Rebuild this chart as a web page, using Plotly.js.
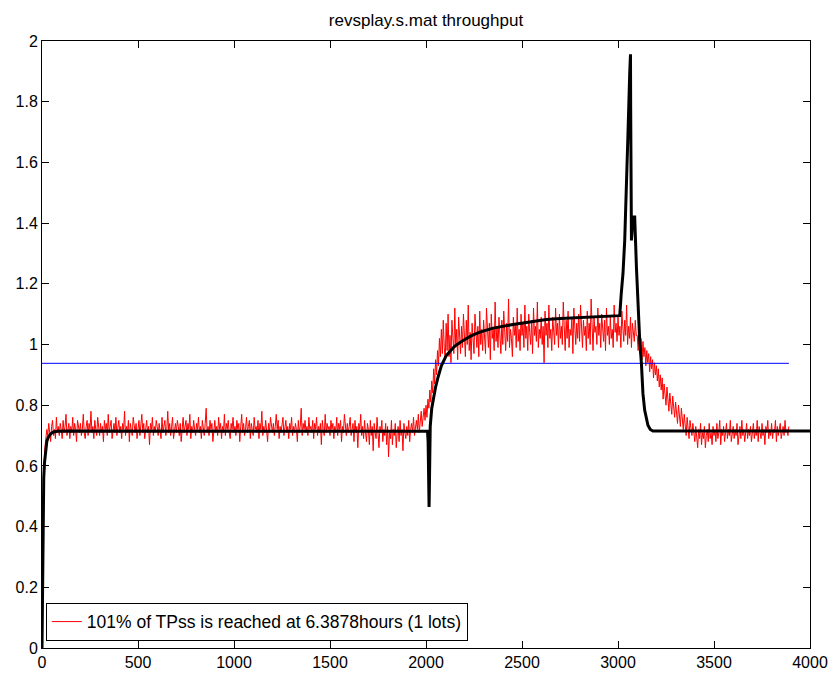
<!DOCTYPE html>
<html>
<head>
<meta charset="utf-8">
<script src="https://cdn.plot.ly/plotly-3.0.1.min.js"></script>
<style>html,body{margin:0;padding:0;background:#fff;}#chart{width:835px;height:675px;}</style>
</head>
<body>
<div id="chart"></div>
<script>
// ---- data ----
const chartTitle = "revsplay.s.mat throughput";
const legendLabel = "101% of TPss is reached at 6.3878hours (1 lots)";
const xTicks = [0, 500, 1000, 1500, 2000, 2500, 3000, 3500, 4000];
const yTicks = [0, 0.2, 0.4, 0.6, 0.8, 1, 1.2, 1.4, 1.6, 1.8, 2];

// measured throughput (red), sampled every 5 time units starting at 0
const redStart = 0;
const redStep = 5;
const redY = [
  0.05,0.35,0.58,0.66,0.69,0.72,0.70,0.74,0.71,0.68,0.73,0.75,0.70,0.72,0.69,0.76,0.71,0.73,0.70,0.74,
  0.72,0.69,0.75,0.71,0.73,0.77,0.70,0.72,0.74,0.69,0.73,0.71,0.76,0.70,0.74,0.72,0.68,0.75,0.73,0.71,
  0.74,0.70,0.72,0.77,0.71,0.69,0.73,0.75,0.70,0.74,0.72,0.78,0.71,0.73,0.69,0.75,0.72,0.70,0.76,0.72,
  0.70,0.74,0.71,0.73,0.68,0.75,0.72,0.74,0.70,0.77,0.71,0.73,0.75,0.69,0.72,0.74,0.71,0.76,0.70,0.73,
  0.75,0.71,0.73,0.69,0.74,0.72,0.78,0.70,0.73,0.71,0.75,0.68,0.74,0.72,0.70,0.76,0.73,0.71,0.74,0.69,
  0.72,0.75,0.70,0.73,0.77,0.71,0.74,0.69,0.72,0.75,0.71,0.73,0.67,0.74,0.72,0.76,0.70,0.73,0.71,0.75,
  0.73,0.70,0.74,0.72,0.69,0.76,0.71,0.73,0.75,0.70,0.72,0.78,0.71,0.74,0.70,0.73,0.76,0.69,0.72,0.74,
  0.71,0.75,0.73,0.70,0.74,0.68,0.72,0.76,0.71,0.73,0.75,0.70,0.74,0.72,0.77,0.69,0.73,0.71,0.75,0.72,
  0.70,0.74,0.72,0.76,0.71,0.73,0.69,0.75,0.72,0.70,0.74,0.79,0.71,0.73,0.70,0.75,0.72,0.74,0.68,0.73,
  0.75,0.71,0.73,0.70,0.76,0.72,0.74,0.69,0.73,0.71,0.77,0.70,0.74,0.72,0.75,0.71,0.69,0.74,0.72,0.76,
  0.71,0.73,0.70,0.75,0.72,0.74,0.68,0.73,0.77,0.71,0.74,0.70,0.72,0.76,0.71,0.73,0.75,0.69,0.74,0.72,
  0.70,0.76,0.72,0.73,0.71,0.75,0.69,0.74,0.72,0.78,0.70,0.73,0.71,0.75,0.72,0.68,0.74,0.71,0.76,0.73,
  0.71,0.74,0.70,0.73,0.77,0.72,0.75,0.69,0.73,0.71,0.74,0.76,0.70,0.72,0.75,0.71,0.73,0.69,0.74,0.72,
  0.76,0.70,0.73,0.71,0.74,0.72,0.68,0.75,0.71,0.73,0.79,0.70,0.74,0.72,0.75,0.71,0.73,0.70,0.76,0.72,
  0.73,0.71,0.75,0.69,0.74,0.72,0.76,0.70,0.73,0.71,0.74,0.67,0.75,0.72,0.70,0.77,0.71,0.74,0.72,0.73,
  0.70,0.75,0.72,0.74,0.69,0.73,0.71,0.76,0.70,0.74,0.72,0.75,0.68,0.73,0.71,0.77,0.72,0.70,0.74,0.71,
  0.73,0.76,0.70,0.72,0.74,0.68,0.75,0.71,0.73,0.66,0.74,0.72,0.77,0.70,0.73,0.69,0.75,0.71,0.68,0.74,
  0.72,0.67,0.75,0.70,0.73,0.65,0.74,0.71,0.69,0.76,0.70,0.66,0.73,0.71,0.75,0.68,0.72,0.70,0.74,0.67,
  0.73,0.63,0.71,0.69,0.75,0.67,0.72,0.70,0.74,0.66,0.71,0.73,0.68,0.75,0.70,0.72,0.65,0.74,0.71,0.69,
  0.73,0.70,0.75,0.68,0.72,0.74,0.71,0.76,0.70,0.73,0.75,0.72,0.77,0.71,0.74,0.78,0.73,0.76,0.79,0.75,
  0.80,0.76,0.82,0.79,0.85,0.81,0.88,0.84,0.92,0.87,0.95,0.90,0.98,0.93,1.02,0.96,1.05,0.97,1.08,0.99,
  0.95,1.07,0.98,1.10,0.96,1.03,0.94,1.08,1.00,0.97,1.12,0.99,1.05,0.95,1.09,1.01,0.97,1.06,0.99,1.10,
  1.02,0.96,1.08,1.00,1.13,0.98,1.04,0.95,1.07,1.01,0.97,1.10,1.03,0.99,1.06,0.96,1.11,1.00,1.05,0.98,
  1.08,1.01,0.97,1.12,1.03,0.99,1.07,0.95,1.10,1.02,1.05,0.98,1.14,1.01,1.06,0.99,1.09,1.03,0.97,1.08,
  1.00,1.11,1.03,0.98,1.07,1.01,1.15,0.99,1.05,1.02,0.96,1.09,1.03,1.07,0.99,1.12,1.01,1.05,0.98,1.10,
  1.03,1.07,0.99,1.13,1.02,1.06,0.98,1.10,1.04,1.00,1.08,0.97,1.12,1.03,1.06,1.01,1.14,0.99,1.05,1.02,
  1.09,1.00,1.06,0.94,1.11,1.03,1.07,0.99,1.13,1.02,1.05,0.98,1.09,1.04,1.00,1.12,1.03,1.07,0.99,1.10,
  1.02,1.06,1.00,1.14,1.03,0.98,1.08,1.02,1.11,0.99,1.05,1.03,1.09,0.97,1.12,1.04,1.00,1.07,1.02,1.10,
  1.01,1.13,1.04,0.99,1.08,1.03,1.06,0.98,1.11,1.02,1.07,1.00,1.15,1.03,0.98,1.09,1.04,1.06,1.00,1.12,
  1.03,1.07,0.99,1.10,1.04,1.01,1.08,0.98,1.12,1.03,1.06,1.00,1.09,1.02,1.05,0.99,1.13,1.04,1.07,1.01,
  1.09,1.03,1.06,0.99,1.11,1.04,1.01,1.08,1.03,1.13,1.00,1.06,1.02,1.09,0.99,1.07,1.04,1.01,1.08,1.03,
  1.03,0.98,1.05,0.97,1.02,0.95,1.01,0.96,0.99,0.93,0.98,0.94,0.97,0.91,0.96,0.92,0.95,0.89,0.94,0.90,
  0.93,0.88,0.92,0.86,0.90,0.85,0.89,0.82,0.87,0.84,0.80,0.86,0.82,0.78,0.84,0.80,0.77,0.83,0.79,0.76,
  0.81,0.77,0.74,0.80,0.76,0.73,0.79,0.75,0.72,0.77,0.74,0.70,0.76,0.73,0.69,0.75,0.72,0.70,0.74,0.71,
  0.68,0.73,0.70,0.66,0.72,0.69,0.74,0.67,0.71,0.69,0.73,0.66,0.70,0.72,0.68,0.74,0.69,0.71,0.67,0.73,
  0.70,0.72,0.68,0.74,0.69,0.71,0.75,0.67,0.72,0.70,0.73,0.68,0.71,0.74,0.69,0.72,0.70,0.75,0.68,0.71,
  0.73,0.69,0.72,0.70,0.74,0.67,0.71,0.73,0.69,0.75,0.70,0.72,0.68,0.71,0.74,0.69,0.72,0.70,0.73,0.68,
  0.71,0.74,0.69,0.72,0.70,0.75,0.68,0.73,0.71,0.69,0.74,0.70,0.72,0.67,0.73,0.71,0.75,0.69,0.72,0.70,
  0.74,0.69,0.72,0.71,0.75,0.68,0.73,0.70,0.72,0.74,0.69,0.71,0.73,0.70,0.75,0.71,0.72,0.70,0.73
];

// model throughput (black)
const modelX = [0,2,4,6,9,13,18,25,33,45,60,80,120,1995,2008,2011,2014,2016,2018,2020,2022,2030,2036,2050,2063,2080,2106,2150,2193,2240,2280,2350,2453,2550,2627,2700,2800,2900,3009,3017,3026,3035,3044,3052,3061,3065,3066,3070,3078,3087,3096,3104,3113,3122,3130,3139,3148,3156,3168,3182,4000];
const modelY = [0,0.2,0.38,0.48,0.56,0.61,0.65,0.68,0.695,0.706,0.712,0.714,0.715,0.715,0.714,0.68,0.55,0.465,0.55,0.68,0.73,0.79,0.816,0.86,0.893,0.93,0.964,0.995,1.013,1.03,1.041,1.054,1.066,1.076,1.082,1.086,1.089,1.092,1.095,1.168,1.234,1.343,1.508,1.695,1.893,1.956,1.78,1.343,1.42,1.42,1.255,1.124,1.014,0.937,0.838,0.783,0.752,0.734,0.72,0.715,0.715];

// steady-state reference line (blue)
const refX = [0, 3890];
const refY = [0.938, 0.938];

// ---- build ----
const redX = redY.map((_, i) => redStart + i * redStep);
const font = "Arial, 'Liberation Sans', Helvetica, sans-serif";

const traces = [
  {x: redX, y: redY, type: 'scatter', mode: 'lines', name: legendLabel,
   line: {color: '#ff0000', width: 1}, showlegend: true},
  {x: refX, y: refY, type: 'scatter', mode: 'lines', name: 'ref',
   line: {color: '#0000ff', width: 1}, showlegend: false},
  {x: modelX, y: modelY, type: 'scatter', mode: 'lines', name: 'model',
   line: {color: '#000000', width: 3}, showlegend: false}
];

const axisCommon = {
  showline: true, linecolor: '#000', linewidth: 1, mirror: 'ticks',
  ticks: 'inside', ticklen: 7, tickcolor: '#000', tickwidth: 1,
  showgrid: false, zeroline: false,
  tickfont: {family: font, size: 16, color: '#000'}
};

const layout = {
  width: 835, height: 675,
  margin: {l: 42, r: 25, t: 41, b: 27},
  paper_bgcolor: '#fff', plot_bgcolor: '#fff',
  title: {text: chartTitle, x: 0.5, xref: 'paper', xanchor: 'center',
          y: 1 - 20 / 675, yref: 'container', yanchor: 'middle',
          font: {family: font, size: 17, color: '#000'}},
  xaxis: Object.assign({}, axisCommon, {range: [0, 4000], tickvals: xTicks, ticktext: xTicks.map(String), ticklabelstandoff: 0}),
  yaxis: Object.assign({}, axisCommon, {range: [0, 2], tickvals: yTicks, ticktext: yTicks.map(String), ticklabelstandoff: 0}),
  showlegend: true,
  legend: {x: 0.005, y: 0.012, xanchor: 'left', yanchor: 'bottom',
           bgcolor: '#fff', bordercolor: '#000', borderwidth: 1,
           font: {family: font, size: 17.5, color: '#000'},
           itemwidth: 30, tracegroupgap: 0}
};

Plotly.newPlot('chart', traces, layout, {displayModeBar: false, staticPlot: true});
</script>
</body>
</html>
